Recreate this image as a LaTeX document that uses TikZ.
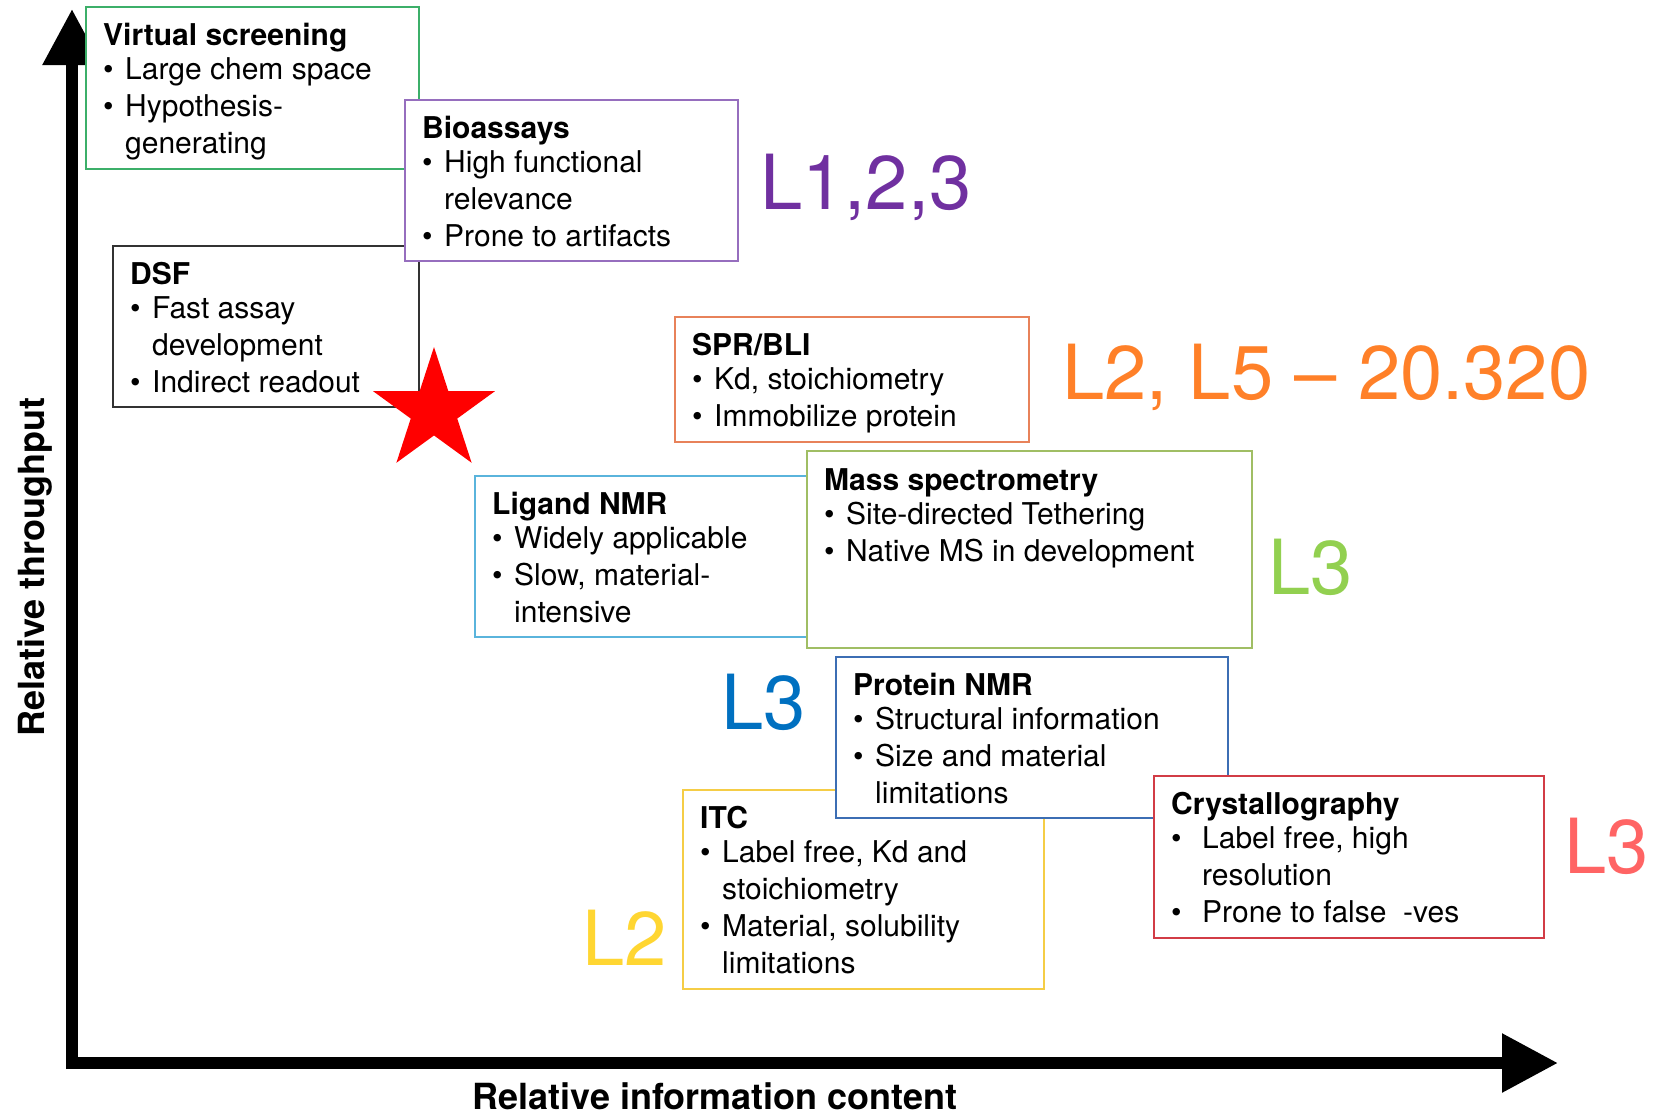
\documentclass[tikz,border=0pt]{standalone}
\usepackage{fontspec}
\setmainfont{TeX Gyre Heros}
\usetikzlibrary{arrows.meta,shapes.geometric}
\definecolor{vsgreen}{RGB}{60,175,105}
\definecolor{biopurple}{RGB}{150,110,190}
\definecolor{lpurple}{RGB}{112,48,160}
\definecolor{dsfgray}{RGB}{50,50,50}
\definecolor{sprorange}{RGB}{232,130,90}
\definecolor{lorange}{RGB}{255,128,40}
\definecolor{ligblue}{RGB}{90,180,220}
\definecolor{msgreen}{RGB}{160,190,100}
\definecolor{lgreen}{RGB}{146,208,80}
\definecolor{pnmrblue}{RGB}{60,110,180}
\definecolor{lblue}{RGB}{0,112,192}
\definecolor{itcyellow}{RGB}{245,205,70}
\definecolor{lyellow}{RGB}{255,214,50}
\definecolor{cryred}{RGB}{210,60,70}
\definecolor{lred}{RGB}{255,100,100}
\newcommand\bul{\makebox[22pt][l]{\textbullet}}
\newcommand\ind{\hspace*{22pt}}
\newcommand\bulw{\makebox[31pt][l]{\textbullet}}
\newcommand\indw{\hspace*{31pt}}
\newcommand\ttl[1]{\textbf{#1}\\[-3pt]}
\begin{document}
\begin{tikzpicture}[x=1pt,y=-1pt,
  box/.style={draw=#1, line width=2pt, fill=white, anchor=north west, inner sep=0pt, outer sep=0pt},
  txt/.style={anchor=north west, inner sep=0pt, align=left, font=\fontsize{30}{37}\selectfont},
  big/.style={anchor=base west, inner sep=0pt, text=#1, font=\fontsize{76}{80}\selectfont},
  axisarrow/.style={line width=12pt, -{Triangle[length=56pt,width=56pt]}},
  axlabel/.style={font=\bfseries\fontsize{36}{40}\selectfont, inner sep=0pt}]
\useasboundingbox (0,0) rectangle (1659,1114);

% axes
\coordinate (yb) at (72,1069);
\coordinate (yt) at (72,9);
\coordinate (xl) at (66,1063);
\coordinate (xr) at (1558,1063);
\draw[axisarrow] (yb) -- (yt);
\draw[axisarrow] (xl) -- (xr);
\node[axlabel, rotate=90] (ylab) at (35,567) {Relative throughput};
\node[axlabel] (xlab) at (715,1096) {Relative information content};

% Virtual screening
\node[box=vsgreen, minimum width=333, minimum height=162] (vs) at (86,7) {};
\node[txt] (vst) at ([shift={(17,16)}]vs.north west)
  {\ttl{Virtual screening}\bul Large chem space\\\bul Hypothesis-\\\ind generating};

% DSF
\node[box=dsfgray, minimum width=306, minimum height=161] (dsf) at (113,246) {};
\node[txt] (dsft) at ([shift={(17,16)}]dsf.north west)
  {\ttl{DSF}\bul Fast assay\\\ind development\\\bul Indirect readout};

% Bioassays
\node[box=biopurple, minimum width=333, minimum height=161] (bio) at (405,100) {};
\node[txt] (biot) at ([shift={(17,16)}]bio.north west)
  {\ttl{Bioassays}\bul High functional\\\ind relevance\\\bul Prone to artifacts};

% star
\node[star, star points=5, star point ratio=2.618, minimum size=128pt, fill=red, inner sep=0pt] (star) at (434,411) {};

% SPR/BLI
\node[box=sprorange, minimum width=354, minimum height=125] (spr) at (675,317) {};
\node[txt] (sprt) at ([shift={(17,16)}]spr.north west)
  {\ttl{SPR/BLI}\bul Kd, stoichiometry\\\bul Immobilize protein};

% Ligand NMR
\node[box=ligblue, minimum width=333, minimum height=161] (lig) at (475,476) {};
\node[txt] (ligt) at ([shift={(17,16)}]lig.north west)
  {\ttl{Ligand NMR}\bul Widely applicable\\\bul Slow, material-\\\ind intensive};

% Mass spectrometry
\node[box=msgreen, minimum width=445, minimum height=197] (ms) at (807,451) {};
\node[txt] (mst) at ([shift={(17,17)}]ms.north west)
  {\ttl{Mass spectrometry}\bul Site-directed Tethering\\\bul Native MS in development};

% ITC
\node[box=itcyellow, minimum width=361, minimum height=199] (itc) at (683,790) {};
\node[txt] (itct) at ([shift={(17,16)}]itc.north west)
  {\ttl{ITC}\bul Label free, Kd and\\\ind stoichiometry\\\bul Material, solubility\\\ind limitations};

% Protein NMR
\node[box=pnmrblue, minimum width=392, minimum height=161] (pnmr) at (836,657) {};
\node[txt] (pnmrt) at ([shift={(17,16)}]pnmr.north west)
  {\ttl{Protein NMR}\bul Structural information\\\bul Size and material\\\ind limitations};

% Crystallography
\node[box=cryred, minimum width=390, minimum height=162] (cry) at (1154,776) {};
\node[txt] (cryt) at ([shift={(17,16)}]cry.north west)
  {\ttl{Crystallography}\bulw Label free, high\\\indw resolution\\\bulw Prone to false\ \ -ves};

% level labels
\node[big=lpurple] (l123) at (760,209) {L1,2,3};
\node[big=lorange] (l25) at (1062,399) {L2, L5 -- 20.320};
\node[big=lgreen] (l3g) at (1268,594) {L3};
\node[big=lblue] (l3b) at (721,729) {L3};
\node[big=lyellow] (l2y) at (582,965) {L2};
\node[big=lred] (l3r) at (1564,873) {L3};
\end{tikzpicture}
\end{document}
